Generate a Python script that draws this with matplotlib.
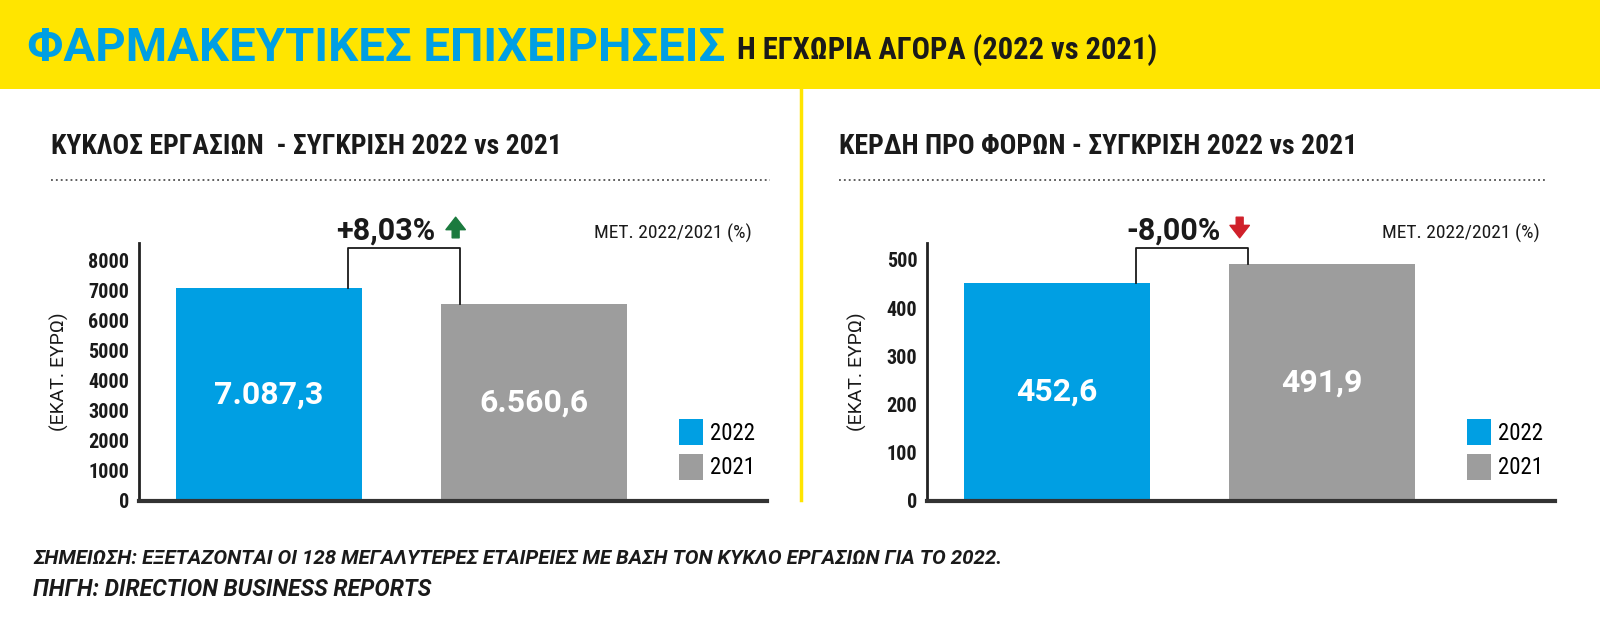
import matplotlib
matplotlib.use("Agg")
import matplotlib.pyplot as plt
from matplotlib.patches import Rectangle, ArrowStyle
from matplotlib.lines import Line2D

plt.rcParams['font.family'] = ['Roboto Condensed', 'DejaVu Sans']
WIDE = ['Roboto', 'DejaVu Sans']

# data
years = ["2022", "2021"]
turnover = [7087.3, 6560.6]
turnover_labels = ["7.087,3", "6.560,6"]
turnover_ticks = [0, 1000, 2000, 3000, 4000, 5000, 6000, 7000, 8000]
profit = [452.6, 491.9]
profit_labels = ["452,6", "491,9"]
profit_ticks = [0, 100, 200, 300, 400, 500]
turnover_change = "+8,03%"
profit_change = "-8,00%"

BLUE = '#009FE3'
GRAY = '#9D9D9D'
YELLOW = '#FFE500'
INK = '#1a1a1a'
W, H = 1600, 622


def fx(x):
    return x / W


def fy(y):
    return 1 - y / H


fig = plt.figure(figsize=(16, 6.22), dpi=100)
fig.patch.set_facecolor('white')

# header band
fig.patches.append(Rectangle((0, fy(89)), 1, 89 / H, transform=fig.transFigure,
                             facecolor=YELLOW, edgecolor='none', zorder=0))
fig.text(fx(27), fy(48), "ΦΑΡΜΑΚΕΥΤΙΚΕΣ ΕΠΙΧΕΙΡΗΣΕΙΣ", color=BLUE,
         fontsize=34, fontweight='bold', va='center', ha='left', family=WIDE)
fig.text(fx(737), fy(50), "Η ΕΓΧΩΡΙΑ ΑΓΟΡΑ (2022 vs 2021)", color=INK,
         fontsize=22, fontweight='bold', va='center', ha='left')

# separator
fig.add_artist(Line2D([fx(801), fx(801)], [fy(89), fy(500)], color=YELLOW,
                      lw=2.5, transform=fig.transFigure))

arrow_style = ArrowStyle('simple', head_length=0.45, head_width=0.7,
                         tail_width=0.25)


def panel(x0, tx, title, vals, labels, ticks, ymax, change, up, line_end):
    fig.text(fx(tx), fy(146), title, fontsize=20, fontweight='bold',
             color=INK, va='center', ha='left')
    fig.add_artist(Line2D([fx(tx), fx(line_end)], [fy(180), fy(180)],
                          color='#333333', lw=1.1, ls=(0, (1.2, 2.0)),
                          transform=fig.transFigure))
    ax = fig.add_axes([fx(x0), 1 - 501 / H, 628 / W, 258 / H])
    pos = [0, 1]
    bars = ax.bar(pos, vals, width=0.70, color=[BLUE, GRAY], zorder=2)
    ax.set_xlim(-0.49, 1.88)
    ax.set_ylim(0, ymax)
    ax.set_yticks(ticks)
    ax.set_yticklabels([str(t) for t in ticks], fontsize=14.5, fontweight='bold',
                       color=INK)
    ax.tick_params(axis='y', length=0, pad=7)
    ax.set_xticks([])
    for s in ['top', 'right']:
        ax.spines[s].set_visible(False)
    ax.spines['left'].set_linewidth(2)
    ax.spines['bottom'].set_linewidth(3)
    ax.spines['left'].set_color('#222222')
    ax.spines['bottom'].set_color('#333333')
    ax.set_ylabel("(ΕΚΑΤ. ΕΥΡΩ)", fontsize=14, color=INK, labelpad=14,
                  family=WIDE)
    for p, v, lab in zip(pos, vals, labels):
        ax.text(p, v / 2, lab, color='white', fontsize=23, fontweight='bold',
                ha='center', va='center', family=WIDE)
    # bracket between the two bars
    top = ymax * 0.981
    ax.plot([0.30, 0.30, 0.72, 0.72], [vals[0], top, top, vals[1]],
            color=INK, lw=1.3, clip_on=False, zorder=3)
    tr = ax.get_xaxis_transform()
    ax.text(0.44, 1.05, change, transform=tr, fontsize=22, fontweight='bold',
            ha='center', va='center', color=INK, clip_on=False, family=WIDE)
    if up:
        ax.annotate('', xy=(0.705, 1.10), xytext=(0.705, 1.02), xycoords=tr,
                    textcoords=tr, annotation_clip=False,
                    arrowprops=dict(arrowstyle=arrow_style, color='#1B7A3E',
                                    mutation_scale=20, shrinkA=0, shrinkB=0))
    else:
        ax.annotate('', xy=(0.69, 1.02), xytext=(0.69, 1.10), xycoords=tr,
                    textcoords=tr, annotation_clip=False,
                    arrowprops=dict(arrowstyle=arrow_style, color='#D0202A',
                                    mutation_scale=20, shrinkA=0, shrinkB=0))
    fig.text(fx(x0 + 613), fy(233), "ΜΕΤ. 2022/2021 (%)", fontsize=14,
             color=INK, ha='right', va='center')
    ax.legend(bars, years, loc='upper left',
              bbox_to_anchor=(fx(x0 + 540), fy(419)),
              bbox_transform=fig.transFigure, frameon=False,
              fontsize=16.5, handlelength=1.05, handleheight=1.35,
              handletextpad=0.3, labelspacing=0.4, borderpad=0,
              borderaxespad=0)
    return ax


panel(139, 51, "ΚΥΚΛΟΣ ΕΡΓΑΣΙΩΝ  - ΣΥΓΚΡΙΣΗ 2022 vs 2021", turnover,
      turnover_labels, turnover_ticks, 8600, turnover_change, True, 770)
panel(927, 839, "ΚΕΡΔΗ ΠΡΟ ΦΟΡΩΝ - ΣΥΓΚΡΙΣΗ 2022 vs 2021", profit,
      profit_labels, profit_ticks, 535, profit_change, False, 1546)

fig.text(fx(33), fy(559),
         "ΣΗΜΕΙΩΣΗ: ΕΞΕΤΑΖΟΝΤΑΙ ΟΙ 128 ΜΕΓΑΛΥΤΕΡΕΣ ΕΤΑΙΡΕΙΕΣ ΜΕ ΒΑΣΗ ΤΟΝ ΚΥΚΛΟ ΕΡΓΑΣΙΩΝ ΓΙΑ ΤΟ 2022.",
         fontsize=14.8, fontweight='bold', style='italic', color=INK,
         va='center', ha='left', family=WIDE)
fig.text(fx(33), fy(590), "ΠΗΓΗ: DIRECTION BUSINESS REPORTS",
         fontsize=16.5, fontweight='bold', style='italic', color=INK,
         va='center', ha='left', family=WIDE)

fig.savefig("out.png", dpi=100, facecolor='white')
